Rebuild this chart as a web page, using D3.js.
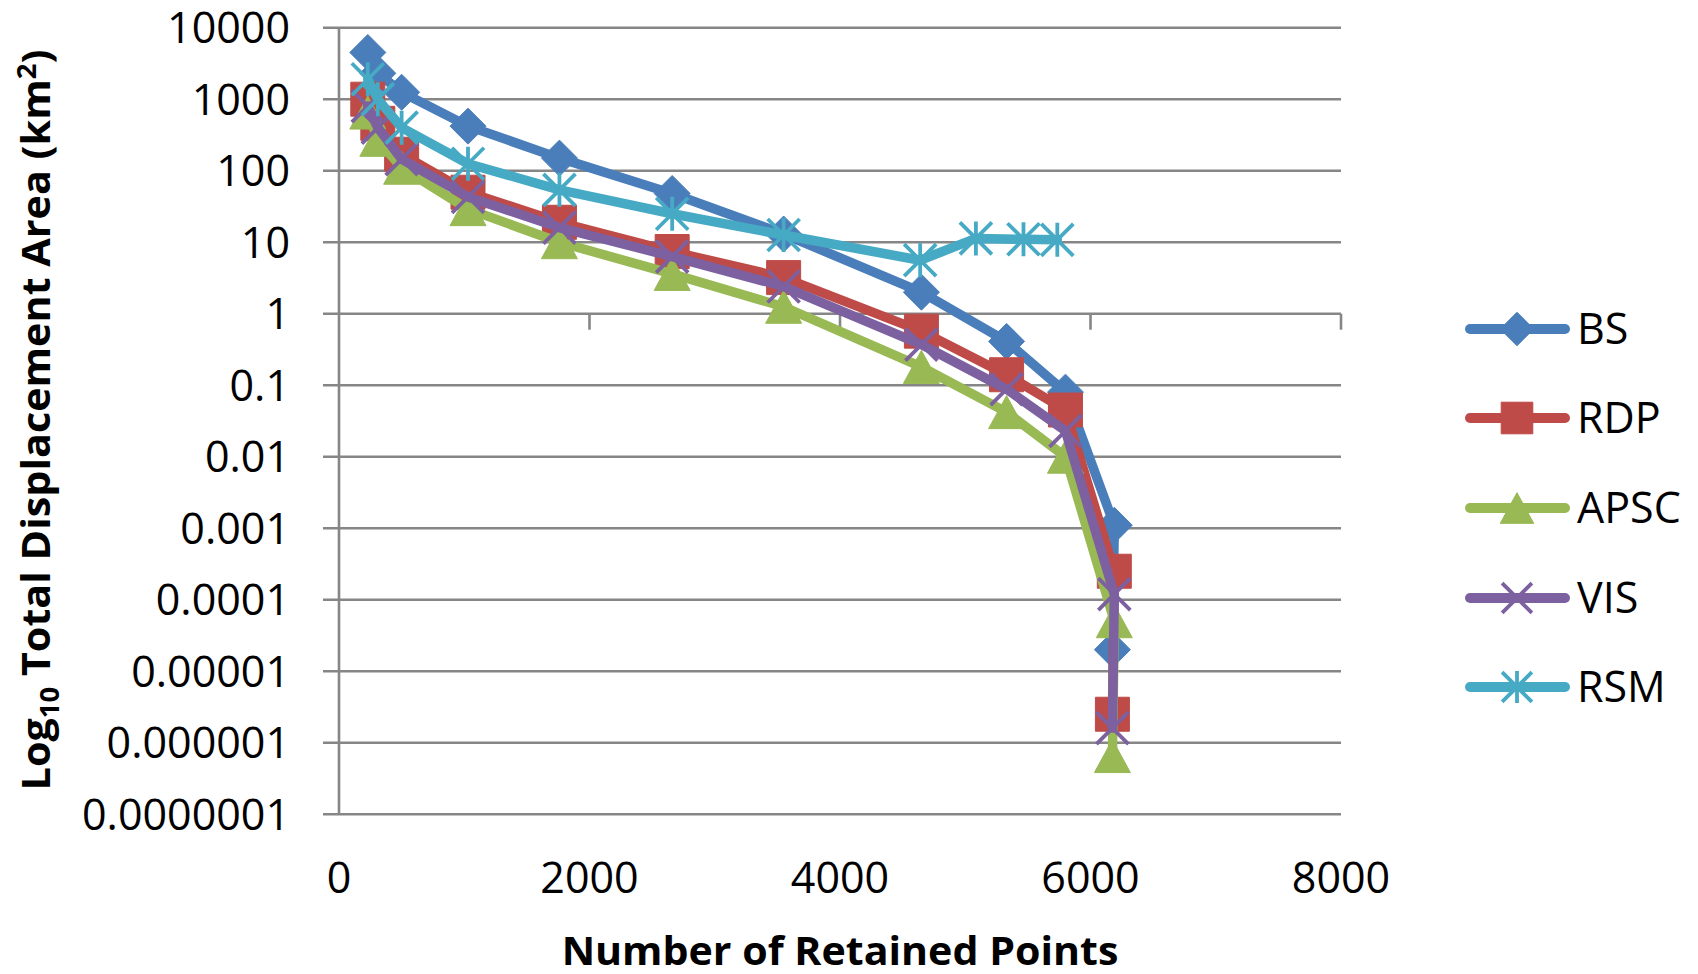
<!DOCTYPE html>
<html>
<head>
<meta charset="utf-8">
<script src="https://cdn.jsdelivr.net/npm/d3@7"></script>
<style>
  body { margin: 0; background: #fff; }
  svg text { font-family: "Open Sans", "Noto Sans", sans-serif; fill: #000; }
</style>
</head>
<body>
<div class="vis-chart"></div>
<script>
// shared retained-point counts for BS, RDP, APSC, VIS
const xPoints = [230, 310, 500, 1030, 1760, 2660, 3550, 4650, 5330, 5800, 6190, 6175];
const bsValues = [4500, 2300, 1250, 420, 150, 48, 13, 2.0, 0.41, 0.08, 0.0011, 0.00002];
const rdpValues = [1000, 460, 170, 50, 19, 7.4, 3.2, 0.57, 0.14, 0.045, 0.00025, 0.0000025];
const apscValues = [650, 270, 110, 29, 10, 3.6, 1.25, 0.18, 0.042, 0.01, 0.00005, 0.00000065];
const visValues = [800, 400, 145, 43, 16, 6.3, 2.4, 0.37, 0.088, 0.023, 0.00012, 0.0000016];
// RSM stops earlier and has its own x positions
const rsmX = [230, 310, 500, 1030, 1760, 2660, 3550, 4640, 5085, 5465, 5735];
const rsmValues = [1900, 1000, 400, 125, 54, 25, 12.6, 5.6, 11.3, 11, 10.8];

const seriesNames = ["BS", "RDP", "APSC", "VIS", "RSM"];
const xTicks = [0, 2000, 4000, 6000, 8000];
const yTicks = [10000, 1000, 100, 10, 1, 0.1, 0.01, 0.001, 0.0001, 0.00001, 0.000001, 0.0000001];
const yTickLabels = ["10000", "1000", "100", "10", "1", "0.1", "0.01", "0.001", "0.0001", "0.00001", "0.000001", "0.0000001"];

const colors = {BS: "#4A7EBB", RDP: "#BE4B48", APSC: "#98B954", VIS: "#7D60A0", RSM: "#46AAC5"};
const markers = {BS: "diamond", RDP: "square", APSC: "triangle", VIS: "cross", RSM: "star"};

const chartWidth = 1698;
const chartHeight = 974;
const plot = { left: 339, right: 1341, top: 27.7, bottom: 814.2 };

const series = [
  { name: "BS", xs: xPoints, ys: bsValues },
  { name: "RDP", xs: xPoints, ys: rdpValues },
  { name: "APSC", xs: xPoints, ys: apscValues },
  { name: "VIS", xs: xPoints, ys: visValues },
  { name: "RSM", xs: rsmX, ys: rsmValues }
].map(function(s) {
  return { name: s.name, points: s.xs.map(function(x, i) { return { x: x, y: s.ys[i] }; }) };
});

const svg = d3.select(".vis-chart").append("svg")
  .attr("width", chartWidth)
  .attr("height", chartHeight);

svg.append("rect").attr("width", chartWidth).attr("height", chartHeight).attr("fill", "#fff");

const x = d3.scaleLinear().domain([0, 8000]).range([plot.left, plot.right]);
const y = d3.scaleLog().domain([1e-7, 1e4]).range([plot.bottom, plot.top]);

const gridColor = "#868686";

// horizontal gridlines (with short ticks left of the axis)
svg.append("g").selectAll("line")
  .data(yTicks)
  .enter().append("line")
  .attr("x1", plot.left - 16)
  .attr("x2", plot.right)
  .attr("y1", function(d) { return y(d); })
  .attr("y2", function(d) { return y(d); })
  .attr("stroke", gridColor)
  .attr("stroke-width", 2.6);

// y axis line
svg.append("line")
  .attr("x1", plot.left).attr("x2", plot.left)
  .attr("y1", plot.top).attr("y2", plot.bottom)
  .attr("stroke", gridColor).attr("stroke-width", 2.6);

// x axis crosses at 1, ticks point down
svg.append("g").selectAll("line")
  .data(xTicks.slice(1))
  .enter().append("line")
  .attr("x1", function(d) { return x(d); })
  .attr("x2", function(d) { return x(d); })
  .attr("y1", y(1))
  .attr("y2", y(1) + 16)
  .attr("stroke", gridColor)
  .attr("stroke-width", 2.6);

// y tick labels
svg.append("g").selectAll("text")
  .data(yTicks)
  .enter().append("text")
  .attr("x", 290)
  .attr("y", function(d) { return y(d); })
  .attr("dy", "0.36em")
  .attr("text-anchor", "end")
  .style("font-size", "43px")
  .text(function(d, i) { return yTickLabels[i]; });

// x tick labels at the bottom
svg.append("g").selectAll("text")
  .data(xTicks)
  .enter().append("text")
  .attr("x", function(d) { return x(d); })
  .attr("y", 893)
  .attr("text-anchor", "middle")
  .style("font-size", "43px")
  .text(function(d) { return d; });

// marker shapes
function markerPath(type, s) {
  if (type === "diamond") {
    const r = 18 * s;
    return "M0," + (-r) + "L" + r + ",0L0," + r + "L" + (-r) + ",0Z";
  }
  if (type === "square") {
    const h = 17 * s;
    return "M" + (-h) + "," + (-h) + "H" + h + "V" + h + "H" + (-h) + "Z";
  }
  if (type === "triangle") {
    const w = 18 * s, h = 16.5 * s;
    return "M0," + (-h) + "L" + w + "," + h + "L" + (-w) + "," + h + "Z";
  }
  const c = 16 * s;
  let p = "M" + (-c) + "," + (-c) + "L" + c + "," + c + "M" + c + "," + (-c) + "L" + (-c) + "," + c;
  if (type === "star") p += "M0," + (-c - 1) + "L0," + (c + 1);
  return p;
}

function drawMarker(g, type, color, s) {
  const filled = type === "diamond" || type === "square" || type === "triangle";
  g.append("path")
    .attr("d", markerPath(type, s))
    .attr("fill", filled ? color : "none")
    .attr("stroke", color)
    .attr("stroke-width", filled ? 1 : 3.8);
}

const line = d3.line()
  .x(function(d) { return x(d.x); })
  .y(function(d) { return y(d.y); });

series.forEach(function(s) {
  const color = colors[s.name];
  const g = svg.append("g").attr("class", "series-" + s.name);
  g.append("path")
    .datum(s.points)
    .attr("d", line)
    .attr("fill", "none")
    .attr("stroke", color)
    .attr("stroke-width", 9.5)
    .attr("stroke-linejoin", "round")
    .attr("stroke-linecap", "round");
  s.points.forEach(function(p) {
    const mg = g.append("g").attr("transform", "translate(" + x(p.x) + "," + y(p.y) + ")");
    drawMarker(mg, markers[s.name], color, 1);
  });
});

// legend
const legendY = [329, 418, 508, 598, 687];
seriesNames.forEach(function(name, i) {
  const color = colors[name];
  const g = svg.append("g").attr("transform", "translate(0," + legendY[i] + ")");
  g.append("line")
    .attr("x1", 1470).attr("x2", 1565)
    .attr("y1", 0).attr("y2", 0)
    .attr("stroke", color)
    .attr("stroke-width", 10)
    .attr("stroke-linecap", "round");
  const mg = g.append("g").attr("transform", "translate(1517,0)");
  drawMarker(mg, markers[name], color, 0.93);
  g.append("text")
    .attr("x", 1577)
    .attr("y", 0)
    .attr("dy", "0.36em")
    .style("font-size", "43px")
    .text(name);
});

// axis titles, squeezed horizontally to mimic a condensed bold face
function fitWidth(g, textSel, target) {
  const w = textSel.node().getBBox().width;
  textSel.attr("transform", "scale(" + (target / w) + ",1)");
}

const xTitleG = svg.append("g").attr("transform", "translate(840,965)");
const xTitle = xTitleG.append("text")
  .attr("text-anchor", "middle")
  .style("font-size", "39px")
  .style("font-weight", "bold")
  .text("Number of Retained Points");
fitWidth(xTitleG, xTitle, 557);

const yTitleG = svg.append("g").attr("transform", "translate(50,420) rotate(-90)");
const yTitle = yTitleG.append("text")
  .attr("text-anchor", "middle")
  .style("font-size", "39px")
  .style("font-weight", "bold");
yTitle.append("tspan").text("Log");
yTitle.append("tspan").attr("dy", 9).style("font-size", "26px").text("10");
yTitle.append("tspan").attr("dy", -9).text(" Total Displacement Area (km");
yTitle.append("tspan").attr("dy", -14).style("font-size", "26px").text("2");
yTitle.append("tspan").attr("dy", 14).text(")");
fitWidth(yTitleG, yTitle, 741);
</script>
</body>
</html>
